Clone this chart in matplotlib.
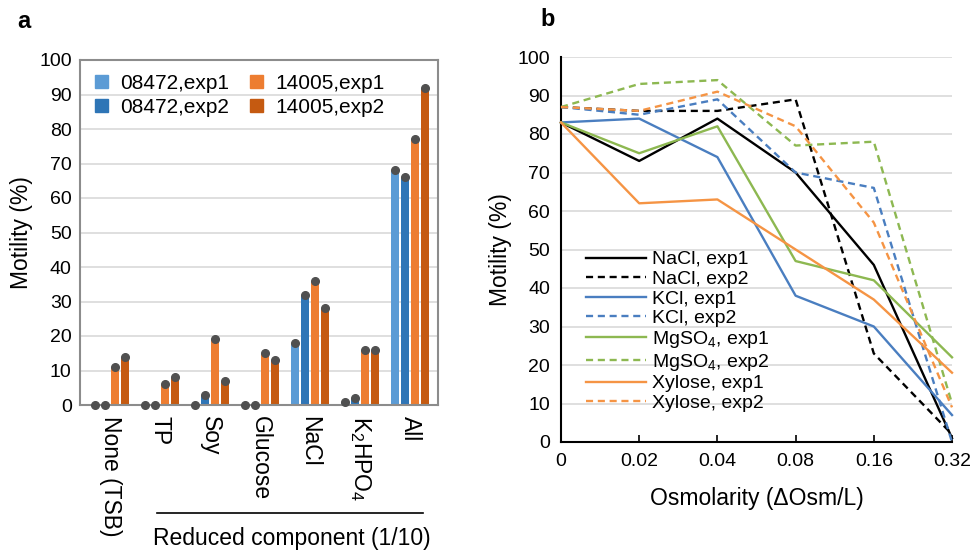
import matplotlib
matplotlib.use('Agg')
import matplotlib.pyplot as plt
import numpy as np
from matplotlib.lines import Line2D
from matplotlib.patches import Patch

plt.rcParams['font.family'] = ['Liberation Sans', 'DejaVu Sans']
plt.rcParams['mathtext.default'] = 'regular'

# ---- data, panel a ----
categories = ['None (TSB)', 'TP', 'Soy', 'Glucose', 'NaCl', 'K$_2$HPO$_4$', 'All']
bar_series = ['08472,exp1', '08472,exp2', '14005,exp1', '14005,exp2']
s08472_exp1 = [0, 0, 0, 0, 18, 1, 68]
s08472_exp2 = [0, 0, 3, 0, 32, 2, 66]
s14005_exp1 = [11, 6, 19, 15, 36, 16, 77]
s14005_exp2 = [14, 8, 7, 13, 28, 16, 92]
bar_colors = ['#5B9BD5', '#2E75B6', '#ED7D31', '#C55A11']

# ---- data, panel b ----
osm_labels = ['0', '0.02', '0.04', '0.08', '0.16', '0.32']
nacl_exp1 = [83, 73, 84, 70, 46, 1]
nacl_exp2 = [87, 86, 86, 89, 23, 2]
kcl_exp1 = [83, 84, 74, 38, 30, 7]
kcl_exp2 = [87, 85, 89, 70, 66, 0]
mgso4_exp1 = [83, 75, 82, 47, 42, 22]
mgso4_exp2 = [87, 93, 94, 77, 78, 10]
xylose_exp1 = [83, 62, 63, 50, 37, 18]
xylose_exp2 = [87, 86, 91, 82, 57, 9]

W, H = 971, 551
fig = plt.figure(figsize=(W / 100, H / 100), dpi=100)

# ================= panel a =================
ax = fig.add_axes([80 / W, 1 - 405 / H, 358 / W, 345 / H])
x = np.arange(len(categories))
series = [s08472_exp1, s08472_exp2, s14005_exp1, s14005_exp2]
offsets = [-0.3, -0.1, 0.1, 0.3]
for vals, off, col, lab in zip(series, offsets, bar_colors, bar_series):
    ax.bar(x + off, vals, width=0.165, color=col, label=lab, zorder=2)
    ax.plot(x + off, vals, 'o', color='#505050', ms=5.5, zorder=3, clip_on=False)

ax.set_xlim(-0.6, 6.56)
ax.set_ylim(0, 100)
ax.set_yticks(range(0, 101, 10))
ax.set_xticks(x)
ax.set_xticklabels(categories, rotation=-90, fontsize=16.5, va='top')
ax.tick_params(axis='y', length=0, labelsize=14, pad=6)
ax.tick_params(axis='x', length=0, pad=8)
ax.grid(axis='y', color='#d9d9d9', lw=1.2, zorder=0)
for sp in ax.spines.values():
    sp.set_color('#8c8c8c')
    sp.set_linewidth(1.5)
ax.set_ylabel('Motility (%)', fontsize=16.5, labelpad=4)

handles = [Patch(color=c) for c in bar_colors]
ax.legend(handles, bar_series,
          ncol=2, loc='upper left', bbox_to_anchor=(0.02, 0.985), frameon=False,
          fontsize=15, handlelength=0.6, handleheight=0.6, handletextpad=0.6,
          columnspacing=1.0, labelspacing=0.25, borderaxespad=0)

fig.add_artist(Line2D([157 / W, 423 / W], [1 - 513 / H] * 2, color='black', lw=1.2))
fig.text(292 / W, 1 - 538 / H, 'Reduced component (1/10)', fontsize=16.5,
         ha='center', va='center')
fig.text(24 / W, 1 - 22 / H, 'a', fontsize=17, fontweight='bold', ha='center', va='center')

# ================= panel b =================
bx = fig.add_axes([561 / W, 1 - 442 / H, 391 / W, 385 / H])
xs = np.arange(len(osm_labels))
blk, blu, grn, org = 'black', '#4A7EC0', '#8DB851', '#F59444'
lines = [
    (nacl_exp1, blk, '-', 'NaCl, exp1'),
    (nacl_exp2, blk, '--', 'NaCl, exp2'),
    (kcl_exp1, blu, '-', 'KCl, exp1'),
    (kcl_exp2, blu, '--', 'KCl, exp2'),
    (mgso4_exp1, grn, '-', 'MgSO$_4$, exp1'),
    (mgso4_exp2, grn, '--', 'MgSO$_4$, exp2'),
    (xylose_exp1, org, '-', 'Xylose, exp1'),
    (xylose_exp2, org, '--', 'Xylose, exp2'),
]
for vals, col, ls, lab in lines:
    bx.plot(xs, vals, color=col, ls=ls, lw=1.7, label=lab, zorder=3, clip_on=False,
            dashes=(3, 2) if ls == '--' else (None, None))

bx.set_xlim(0, 5)
bx.set_ylim(0, 100)
bx.set_yticks(range(0, 101, 10))
bx.set_xticks(xs)
bx.set_xticklabels(osm_labels)
bx.tick_params(axis='y', length=0, labelsize=14, pad=8)
bx.tick_params(axis='x', direction='in', length=5, width=1.2, labelsize=14, pad=8)
bx.grid(axis='y', color='#d9d9d9', lw=1.2, zorder=0)
bx.spines['top'].set_visible(False)
bx.spines['right'].set_visible(False)
bx.spines['left'].set_linewidth(1.5)
bx.spines['bottom'].set_linewidth(1.5)
bx.set_ylabel('Motility (%)', fontsize=16.5, labelpad=4)
bx.set_xlabel('Osmolarity (\u0394Osm/L)', fontsize=16.5, labelpad=12)
bx.legend(loc='upper left', bbox_to_anchor=(578 / W, 1 - 243 / H),
          bbox_transform=fig.transFigure, frameon=False, fontsize=14,
          handlelength=3.1, handletextpad=0.3, labelspacing=0.1, borderaxespad=0)
fig.text(548 / W, 1 - 20 / H, 'b', fontsize=17, fontweight='bold', ha='center', va='center')

fig.savefig('out.png', dpi=100)
